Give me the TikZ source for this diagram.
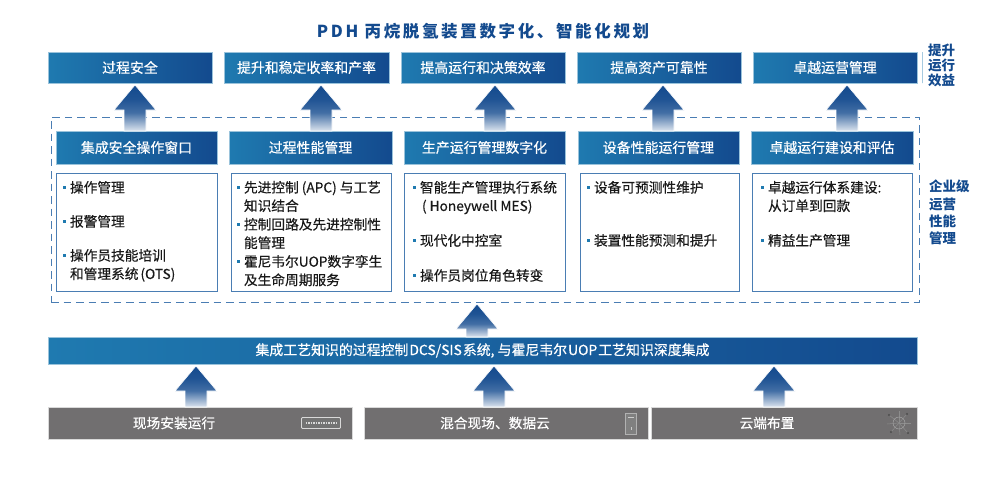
\documentclass[tikz,border=0pt]{standalone}
\usepackage{fontspec}
\setmainfont{Noto Sans CJK SC}
\newfontfamily\headfont[FakeBold=0.5]{Noto Sans CJK SC}
\newfontfamily\itemfont[FakeBold=0.35]{Noto Sans CJK SC}
\usepackage{tikz}
\usetikzlibrary{positioning, calc}
\definecolor{darkblue}{HTML}{134A8E}
\definecolor{midblue}{HTML}{1F7AB0}
\definecolor{dashblue}{HTML}{4A7DB3}
\definecolor{sitegray}{HTML}{716F70}
\pgfdeclareverticalshading{arrowfade}{100bp}{
    color(0bp)=(darkblue!15); color(25bp)=(darkblue!15); color(45bp)=(darkblue!80); color(60bp)=(darkblue!95); color(75bp)=(darkblue); color(100bp)=(darkblue)}
\newcommand{\dotmark}{\llap{\textcolor{midblue}{\rule[4pt]{3pt}{3pt}}\hspace{4pt}}}
% block arrow: x position, lower node, upper node
\newcommand{\blockup}[3]{
    \coordinate (tip) at ($(#1,0 |- #3.south)+(0,2)$);
    \coordinate (foot) at (#1,0 |- #2.north);
    \path[uparrow] (tip) -- ($(tip)+(21,25)$) -- ($(tip)+(11,25)$) -- ($(foot)+(11,0)$)
        -- ($(foot)+(-11,0)$) -- ($(tip)+(-11,25)$) -- ($(tip)+(-21,25)$) -- cycle;
}
\tikzset{
x=1pt, y=-1pt, % one unit is one pixel of the layout, y runs down
every node/.style={inner sep=0pt, outer sep=0pt},
bluebox/.style={anchor=north west, draw=midblue!45, line width=0.6pt, left color=midblue, right color=darkblue, text=white, font=\fontsize{13.9}{16}\selectfont\headfont}, % the gradient title boxes
listbox/.style={anchor=north west, draw=dashblue, line width=0.9pt, fill=white, minimum height=118pt}, % the framed lists
listitem/.style={anchor=north west, align=left, text=black!90, font=\fontsize{13.7}{18.4}\selectfont\itemfont}, % one bullet of a list
sidetext/.style={anchor=north west, align=left, text=darkblue, font=\fontsize{13.5}{15}\selectfont\bfseries}, % labels at the right edge
sitebox/.style={anchor=north west, draw=black!15, line width=0.6pt, fill=sitegray, minimum height=32pt}, % grey bottom boxes
sitetext/.style={text=white, font=\fontsize{13.7}{16}\selectfont\itemfont},
uparrow/.style={draw=white, line width=0.6pt, shading=arrowfade}, % arrow fades out downwards
}

\begin{document}
\begin{tikzpicture}
    \useasboundingbox (0,0) rectangle (989,483);
    \fill[white] (0,0) rectangle (989,483);

    \node[text=darkblue, font=\fontsize{16.5}{18}\selectfont\bfseries\addfontfeatures{LetterSpace=16}] (title) at (483,31) {PDH 丙烷脱氢装置数字化、智能化规划};

    % goals
    \node[bluebox, minimum width=164pt, minimum height=31pt] (goal1) at (48,52) {过程安全};
    \node[bluebox, minimum width=165pt, minimum height=31pt, right=12pt of goal1] (goal2) {提升和稳定收率和产率};
    \node[bluebox, minimum width=164pt, minimum height=31pt, right=12pt of goal2] (goal3) {提高运行和决策效率};
    \node[bluebox, minimum width=164pt, minimum height=31pt, right=12pt of goal3] (goal4) {提高资产可靠性};
    \node[bluebox, minimum width=164pt, minimum height=31pt, right=12pt of goal4] (goal5) {卓越运营管理};
    \node[anchor=north, draw=midblue!60, line width=0.8pt, minimum height=31pt, minimum width=0pt] (goalrule) at (922,52) {};
    \node[sidetext] (goallabel) at (928,44) {提升\\运行\\效益};

    % dashed frame
    \node[anchor=north west, draw=dashblue, line width=1pt, dash pattern=on 7.5pt off 5pt, minimum width=868pt, minimum height=185pt] (frame) at (51,117) {};
    \node[sidetext, font=\fontsize{13.5}{17.4}\selectfont\bfseries] (framelabel) at (929,180) {企业级\\运营\\性能\\管理};

    % headers
    \node[bluebox, minimum width=161pt, minimum height=33pt] (head1) at (56,131) {集成安全操作窗口};
    \node[bluebox, minimum width=163pt, minimum height=33pt, right=12pt of head1] (head2) {过程性能管理};
    \node[bluebox, minimum width=161pt, minimum height=33pt, right=12pt of head2] (head3) {生产运行管理数字化};
    \node[bluebox, minimum width=161pt, minimum height=33pt, right=13pt of head3] (head4) {设备性能运行管理};
    \node[bluebox, minimum width=162pt, minimum height=33pt, right=12pt of head4] (head5) {卓越运行建设和评估};

    % lists
    \node[listbox, minimum width=161pt] (list1) at (56,173) {};
    \node[listbox, minimum width=160pt] (list2) at (231,173) {};
    \node[listbox, minimum width=161pt] (list3) at (404,173) {};
    \node[listbox, minimum width=159pt] (list4) at (580,173) {};
    \node[listbox, minimum width=160pt] (list5) at (752,173) {};

    \node[listitem] (item11) at (70,181) {\dotmark 操作管理};
    \node[listitem] (item12) at (70,215) {\dotmark 报警管理};
    \node[listitem] (item13) at (70,249) {\dotmark 操作员技能培训\\和管理系统\hspace{2pt}(OTS)};
    \node[listitem] (item21) at (244,181) {\dotmark 先进控制\hspace{3pt}(APC)\hspace{3pt}与工艺\\知识结合};
    \node[listitem] (item22) at (244,218) {\dotmark 控制回路及先进控制性\\能管理};
    \node[listitem] (item23) at (244,255) {\dotmark 霍尼韦尔UOP数字孪生\\及生命周期服务};
    \node[listitem] (item31) at (420,181) {\dotmark 智能生产管理执行系统\\\hspace{2pt}(\hspace{3pt}Honeywell MES)};
    \node[listitem] (item32) at (420,234) {\dotmark 现代化中控室};
    \node[listitem] (item33) at (420,269) {\dotmark 操作员岗位角色转变};
    \node[listitem] (item41) at (594,181) {\dotmark 设备可预测性维护};
    \node[listitem] (item42) at (594,234) {\dotmark 装置性能预测和提升};
    \node[listitem] (item51) at (768,181) {\dotmark 卓越运行体系建设:\\从订单到回款};
    \node[listitem] (item52) at (768,234) {\dotmark 精益生产管理};

    % bottom
    \node[bluebox, minimum width=869pt, minimum height=27pt] (bar) at (48,337) {集成工艺知识的过程控制\hspace{1pt}DCS/SIS\hspace{1pt}系统, 与霍尼韦尔\hspace{1pt}UOP\hspace{1pt}工艺知识深度集成};
    \node[sitebox, minimum width=304pt] (site1) at (48,407) {};
    \node[sitebox, minimum width=284pt] (site2) at (364,407) {};
    \node[sitebox, minimum width=266pt] (site3) at (651,407) {};
    \node[sitetext] (sitename1) at ([xshift=-26pt]site1.center) {现场安装运行};
    \node[sitetext] (sitename2) at ([xshift=-11pt]site2.center) {混合现场、数据云};
    \node[sitetext] (sitename3) at ([xshift=-17pt]site3.center) {云端布置};

    % little icons
    \node[anchor=center, draw=black!15, line width=0.8pt, rounded corners=1pt, fill=black!55, minimum width=39pt, minimum height=11pt] (iconrack) at (321,423) {};
    \draw[black!15, line width=1.2pt, dash pattern=on 1.5pt off 1pt] (iconrack.west) ++(4,0) -- ++(31,0);
    \node[anchor=center, draw=black!30, line width=0.6pt, fill=black!50, minimum width=11pt, minimum height=21pt] (icontower) at (631,423.5) {};
    \draw[black!20, line width=0.8pt] (icontower.north) ++(-3,4) -- ++(6,0) (icontower.south) ++(0,-7) -- ++(0,3);
    \foreach \p/\q in {-10/-8, 8/-9, 12/0, 9/10, -8/9, -12/1, 0/-12, 1/12}
        \draw[black!45, line width=0.5pt] (899,423) -- ++(\p,\q);
    \draw[black!35, line width=0.5pt] (899,423) circle (6);
    \foreach \p/\q in {-10/-8, 8/-9, 9/10, -8/9}
        \fill[black!70] (899,423) ++(\p,\q) circle (1.2);

    % arrows
    \blockup{135}{head1}{goal1}
    \blockup{321}{head2}{goal2}
    \blockup{495}{head3}{goal3}
    \blockup{663}{head4}{goal4}
    \blockup{847}{head5}{goal5}
    \blockup{477}{bar}{frame}
    \blockup{196}{site1}{bar}
    \blockup{494}{site2}{bar}
    \blockup{774}{site3}{bar}
\end{tikzpicture}
\end{document}
